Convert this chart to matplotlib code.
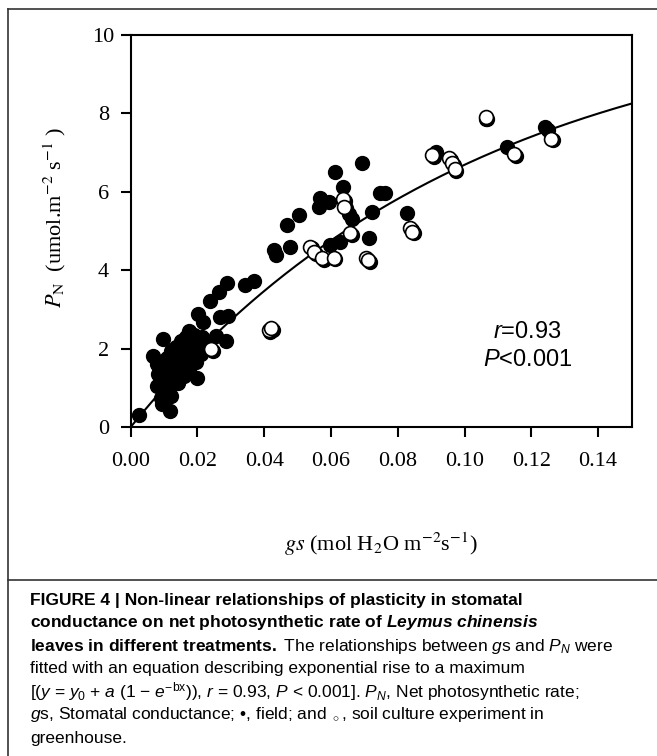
import matplotlib
matplotlib.use('Agg')
import numpy as np
import matplotlib.pyplot as plt
from matplotlib.lines import Line2D
from matplotlib.transforms import offset_copy

plt.rcParams['font.family'] = ['Liberation Serif', 'DejaVu Serif']
plt.rcParams['mathtext.fontset'] = 'custom'
plt.rcParams['mathtext.rm'] = 'Liberation Sans'
plt.rcParams['mathtext.it'] = 'Liberation Sans:italic'
plt.rcParams['mathtext.bf'] = 'Liberation Sans:bold'
plt.rcParams['mathtext.bfit'] = 'Liberation Sans:italic:bold'

# field measurements (filled circles)
field_gs = [0.0026, 0.0098, 0.0066, 0.0118, 0.0200, 0.0143, 0.0284, 0.0255,
            0.0203, 0.0239, 0.0264, 0.0289, 0.0266, 0.0290, 0.0216, 0.0174,
            0.0343, 0.0370,
            0.0080, 0.0082, 0.0080, 0.0090, 0.0095, 0.0100, 0.0100, 0.0105,
            0.0110, 0.0115, 0.0120, 0.0125, 0.0130, 0.0135, 0.0140, 0.0145,
            0.0150, 0.0155, 0.0160, 0.0165, 0.0170, 0.0175, 0.0180, 0.0185,
            0.0190, 0.0195, 0.0200, 0.0210, 0.0215, 0.0225, 0.0235, 0.0120,
            0.0110, 0.0090, 0.0160,
            0.0428, 0.0436, 0.0476, 0.0468, 0.0503, 0.0568, 0.0563, 0.0593,
            0.0613, 0.0636, 0.0693, 0.0748, 0.0763, 0.0723, 0.0663, 0.0655,
            0.0713, 0.0628, 0.0598, 0.0828,
            0.0913, 0.1128, 0.1240, 0.1250, 0.1065]
field_pn = [0.30, 2.25, 1.80, 0.42, 1.26, 1.12, 2.18, 2.32,
            2.88, 3.22, 3.44, 3.68, 2.80, 2.82, 2.68, 2.45,
            3.62, 3.72,
            1.05, 1.35, 1.60, 0.75, 0.58, 1.20, 1.50, 0.90,
            1.75, 1.35, 1.95, 1.10, 1.60, 2.05, 1.40, 1.85,
            2.20, 1.60, 2.00, 2.30, 1.75, 1.45, 2.15, 1.90,
            2.35, 1.65, 2.05, 1.85, 2.30, 2.00, 2.15, 0.80,
            1.05, 1.30, 1.30,
            4.52, 4.38, 4.60, 5.15, 5.40, 5.83, 5.62, 5.74,
            6.51, 6.13, 6.72, 5.96, 5.96, 5.49, 5.30, 5.42,
            4.81, 4.72, 4.64, 5.45,
            7.00, 7.15, 7.65, 7.58, 7.85]

# soil culture experiment in greenhouse (open circles)
green_gs = [0.0240, 0.0413, 0.0420, 0.0538, 0.0550, 0.0573, 0.0608, 0.0636,
            0.0640, 0.0658, 0.0706, 0.0712, 0.0836, 0.0843, 0.0903, 0.0953,
            0.0963, 0.0970, 0.1063, 0.1148, 0.1258]
green_pn = [1.98, 2.47, 2.52, 4.60, 4.45, 4.30, 4.32, 5.80,
            5.62, 4.95, 4.30, 4.25, 5.08, 4.98, 6.93, 6.85,
            6.72, 6.58, 7.90, 6.95, 7.35]

# exponential rise to a maximum, y = y0 + a(1 - exp(-b x))
fit_y0 = 0.0
fit_a = 10.72
fit_b = 9.77

x_ticks = [0.00, 0.02, 0.04, 0.06, 0.08, 0.10, 0.12, 0.14]
x_ticklabels = ['0.00', '0.02', '0.04', '0.06', '0.08', '0.10', '0.12', '0.14']
y_ticks = [0, 2, 4, 6, 8, 10]

caption_lines = [
    'FIGURE 4 | Non-linear relationships of plasticity in stomatal',
    r'conductance on net photosynthetic rate of $\mathbfit{Leymus\ chinensis}$',
    r'$\mathbf{leaves\ in\ different\ treatments.}$ The relationships between $g$s and $P_N$ were',
    'fitted with an equation describing exponential rise to a maximum',
    r'[($y$ = $y_0$ + $a$ (1 − $e^{-\mathrm{bx}}$)), $r$ = 0.93, $P$ < 0.001]. $P_N$, Net photosynthetic rate;',
    r'$g$s, Stomatal conductance; •, field; and $_\circ$, soil culture experiment in',
    'greenhouse.',
]
caption_bold = [True, True, False, False, False, False, False]

W, H = 657, 756
fig = plt.figure(figsize=(W / 100, H / 100), dpi=100)
ax = fig.add_axes([130.7 / W, 1 - 427 / H, 500.8 / W, 392.3 / H])

gx = np.linspace(0, 0.15, 300)
ax.plot(gx, fit_y0 + fit_a * (1 - np.exp(-fit_b * gx)), color='black', lw=1.5, zorder=2)
ax.plot(field_gs, field_pn, 'o', ms=10, mfc='black', mec='black', zorder=3)
shadow = offset_copy(ax.transData, fig=fig, x=1.3, y=-1.3, units='points')
ax.plot(green_gs, green_pn, 'o', ms=10, mfc='black', mec='black', transform=shadow, zorder=4)
ax.plot(green_gs, green_pn, 'o', ms=10, mfc='white', mec='black', mew=1.2, zorder=5)

ax.set_xlim(0, 0.15)
ax.set_ylim(0, 10)
ax.set_xticks(x_ticks)
ax.set_xticklabels(x_ticklabels)
ax.set_yticks(y_ticks)
for s in ax.spines.values():
    s.set_linewidth(1.5)
ax.tick_params(direction='out', length=7, width=1.5, labelsize=16)
ax.tick_params(axis='x', pad=11)
ax.tick_params(axis='y', pad=12.5)
for lbl in ax.get_yticklabels():
    lbl.set_ha('center')

ax.set_xlabel(r'$gs$ (mol H$_2$O m$^{-2}$s$^{-1}$)', fontsize=16, va='center',
              math_fontfamily='stix')
ax.xaxis.set_label_coords(0.5, -0.30)
ax.set_ylabel(r'$P_\mathrm{N}$  (umol.m$^{-2}$ s$^{-1}$ )', fontsize=16, va='center',
              math_fontfamily='stix')
ax.yaxis.set_label_coords(-0.151, 0.533)

ax.text(0.1188, 2.43, '$r$=0.93', fontsize=17, family='Liberation Sans',
        ha='center', va='center')
ax.text(0.1188, 1.71, '$P$<0.001', fontsize=17, family='Liberation Sans',
        ha='center', va='center')

# frame around figure and caption panel
for xs, ys in [([7.5 / W, 7.5 / W], [0, 1 - 9 / H]),
               ([7.5 / W, 1], [1 - 9 / H, 1 - 9 / H]),
               ([7.5 / W, 1], [1 - 580 / H, 1 - 580 / H])]:
    fig.add_artist(Line2D(xs, ys, transform=fig.transFigure, color='#333333', lw=1.2))

for i, (line, bold) in enumerate(zip(caption_lines, caption_bold)):
    fig.text(30 / W, 1 - (600 + i * 23) / H, line, fontsize=12.5,
             family=['Liberation Sans', 'DejaVu Sans'],
             weight='bold' if bold else 'normal', ha='left', va='center')

fig.savefig('out.png', dpi=100)
